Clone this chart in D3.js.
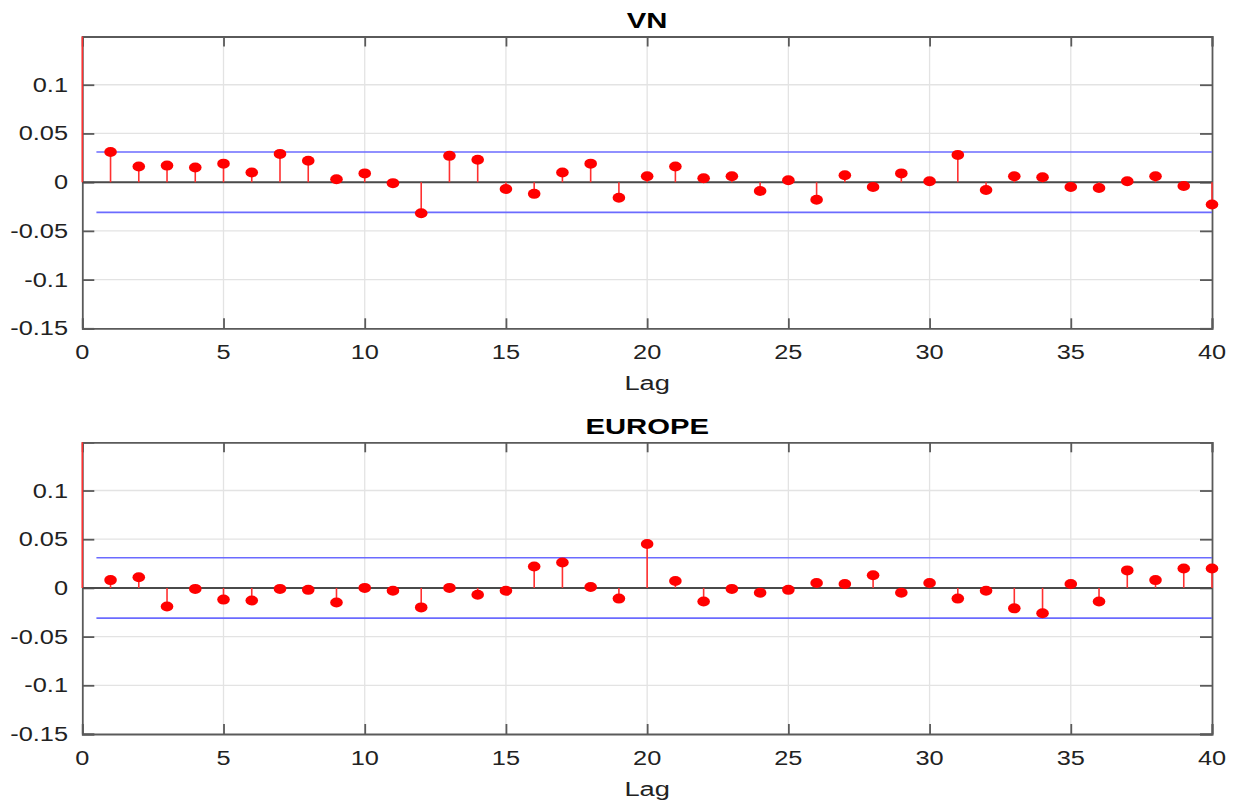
<!DOCTYPE html>
<html>
<head>
<meta charset="utf-8">
<script src="https://cdn.jsdelivr.net/npm/d3@7"></script>
<style>
  html, body { margin: 0; padding: 0; background: #fff; }
  svg { display: block; font-family: "Liberation Sans", Arial, Helvetica, sans-serif; }
</style>
</head>
<body>
<svg id="chart" width="1236" height="801"></svg>
<script>
// Sample autocorrelation by lag (lag 0 = 1)
const lags = d3.range(0, 41);

const vnACF = [1,
  0.031, 0.016, 0.017, 0.015, 0.019, 0.010, 0.029, 0.022, 0.003, 0.009,
  -0.001, -0.032, 0.027, 0.023, -0.007, -0.012, 0.010, 0.019, -0.016, 0.006,
  0.016, 0.004, 0.006, -0.009, 0.002, -0.018, 0.007, -0.005, 0.009, 0.001,
  0.028, -0.008, 0.006, 0.005, -0.005, -0.006, 0.001, 0.006, -0.004, -0.023];

const europeACF = [1,
  0.008, 0.011, -0.019, -0.001, -0.012, -0.013, -0.001, -0.002, -0.015, 0.000,
  -0.003, -0.020, 0.000, -0.007, -0.003, 0.022, 0.026, 0.001, -0.011, 0.045,
  0.007, -0.014, -0.001, -0.005, -0.002, 0.005, 0.004, 0.013, -0.005, 0.005,
  -0.011, -0.003, -0.021, -0.026, 0.004, -0.014, 0.018, 0.008, 0.020, 0.020];

// Approximate 95% confidence bounds
const vnBounds = [0.031, -0.031];
const europeBounds = [0.031, -0.031];

const xTicks = [0, 5, 10, 15, 20, 25, 30, 35, 40];
const yTicks = [0.1, 0.05, 0, -0.05, -0.1, -0.15];
const yTickLabels = ["0.1", "0.05", "0", "-0.05", "-0.1", "-0.15"];

const panelTitles = ["VN", "EUROPE"];
const xLabel = "Lag";

const svg = d3.select("#chart");
const left = 82.3, right = 1212;
const STRETCH = 1.3; // horizontal glyph stretch of the labels

function stretchedText(g, x, y, str, opts) {
  const t = g.append("text")
    .attr("transform", `translate(${x},${y}) scale(${STRETCH},1)`)
    .attr("text-anchor", opts.anchor || "middle")
    .attr("font-size", opts.size)
    .attr("font-weight", opts.weight || "normal")
    .attr("fill", opts.fill || "#222")
    .text(str);
  if (opts.dy) t.attr("dy", opts.dy);
  return t;
}

function drawPanel(idx, title, values, bounds, top, bottom) {
  const x = d3.scaleLinear().domain([0, 40]).range([left, right]);
  const y = d3.scaleLinear().domain([-0.15, 0.1495]).range([bottom, top]);
  const g = svg.append("g");
  const h = bottom - top;

  const clipId = "clip" + idx;
  svg.append("clipPath").attr("id", clipId)
    .append("rect")
    .attr("x", left - 10).attr("y", top)
    .attr("width", right - left + 20).attr("height", h);

  // grid
  g.append("g").selectAll("line.gx").data(xTicks.filter(d => d > 0 && d < 40)).join("line")
    .attr("x1", d => x(d)).attr("x2", d => x(d))
    .attr("y1", top).attr("y2", bottom)
    .attr("stroke", "#e3e3e3").attr("stroke-width", 1.3);
  g.append("g").selectAll("line.gy").data(yTicks.filter(d => d > -0.15)).join("line")
    .attr("x1", left).attr("x2", right)
    .attr("y1", d => y(d)).attr("y2", d => y(d))
    .attr("stroke", "#e3e3e3").attr("stroke-width", 1.3);

  // box with inward ticks
  const axisColor = "#5a5a5a";
  const axB = g.append("g").attr("transform", `translate(0,${bottom})`)
    .call(d3.axisBottom(x).tickValues(xTicks).tickSize(-10).tickFormat(""));
  const axT = g.append("g").attr("transform", `translate(0,${top})`)
    .call(d3.axisTop(x).tickValues(xTicks).tickSize(-10).tickFormat(""));
  const axL = g.append("g").attr("transform", `translate(${left},0)`)
    .call(d3.axisLeft(y).tickValues(yTicks).tickSize(-12).tickFormat(""));
  const axR = g.append("g").attr("transform", `translate(${right},0)`)
    .call(d3.axisRight(y).tickValues(yTicks).tickSize(-12).tickFormat(""));
  [axB, axT, axL, axR].forEach(a => {
    a.select(".domain").attr("stroke", axisColor).attr("stroke-width", 1.8);
    a.selectAll(".tick line").attr("stroke", axisColor).attr("stroke-width", 1.8);
  });

  // tick labels
  xTicks.forEach(d => stretchedText(g, x(d), bottom + 30.5, String(d), { size: 19.5 }));
  yTicks.forEach((d, i) => stretchedText(g, 68, y(d), yTickLabels[i], { size: 19.5, anchor: "end", dy: "0.36em" }));

  // axis label and title
  stretchedText(g, (left + right) / 2, bottom + 62, xLabel, { size: 21 });
  stretchedText(g, (left + right) / 2, top - 8.5, title, { size: 22.5, weight: "bold", fill: "#000" });

  const plot = g.append("g").attr("clip-path", `url(#${clipId})`);

  // zero baseline
  plot.append("line")
    .attr("x1", left).attr("x2", right)
    .attr("y1", y(0)).attr("y2", y(0))
    .attr("stroke", "#4a4a4a").attr("stroke-width", 2);

  // confidence bounds
  plot.selectAll("line.bound").data(bounds).join("line")
    .attr("x1", x(0.5)).attr("x2", x(40))
    .attr("y1", d => y(d)).attr("y2", d => y(d))
    .attr("stroke", "#6b6bff").attr("stroke-width", 1.6);

  // stems
  plot.selectAll("line.stem").data(lags).join("line")
    .attr("x1", d => x(d)).attr("x2", d => x(d))
    .attr("y1", y(0)).attr("y2", d => y(values[d]))
    .attr("stroke", "#ff3030").attr("stroke-width", 1.6);

  // markers
  plot.selectAll("ellipse").data(lags).join("ellipse")
    .attr("cx", d => x(d)).attr("cy", d => y(values[d]))
    .attr("rx", 6.3).attr("ry", 5)
    .attr("fill", "#ff0000");
}

drawPanel(0, panelTitles[0], vnACF, vnBounds, 36.5, 328.3);
drawPanel(1, panelTitles[1], europeACF, europeBounds, 442.3, 734);
</script>
</body>
</html>
